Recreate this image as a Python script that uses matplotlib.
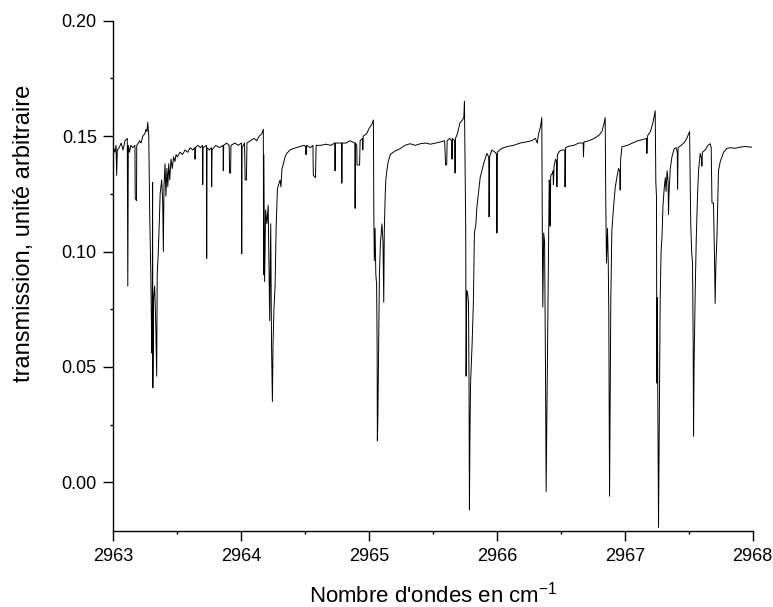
import matplotlib
matplotlib.use("Agg")
import matplotlib.pyplot as plt
from matplotlib.ticker import MultipleLocator, FormatStrFormatter

plt.rcParams['font.family'] = ['Liberation Sans', 'DejaVu Sans']

# spectre : nombre d'ondes (cm-1) et transmission
wavenumber = [
    # 2963.0 - 2963.27
    2963.000, 2963.010, 2963.020, 2963.025, 2963.030, 2963.045, 2963.060, 2963.075, 2963.090, 2963.108,
    2963.112, 2963.116, 2963.125, 2963.135, 2963.150, 2963.168, 2963.170, 2963.180, 2963.182, 2963.195,
    2963.205, 2963.215, 2963.230, 2963.245, 2963.255, 2963.262, 2963.268,
    # massif 2963.3
    2963.276, 2963.283, 2963.292, 2963.300, 2963.303, 2963.306, 2963.308, 2963.314, 2963.322, 2963.330,
    2963.338, 2963.342, 2963.350, 2963.358, 2963.365, 2963.377, 2963.385, 2963.390, 2963.395, 2963.403,
    2963.410, 2963.418, 2963.425, 2963.432, 2963.440, 2963.450, 2963.460, 2963.470, 2963.480, 2963.490,
    # 2963.5 - 2964.16
    2963.500, 2963.520, 2963.540, 2963.560, 2963.580, 2963.600, 2963.620, 2963.636, 2963.638, 2963.641,
    2963.660, 2963.680, 2963.696, 2963.698, 2963.701, 2963.727, 2963.729, 2963.732, 2963.750, 2963.766,
    2963.768, 2963.771, 2963.800, 2963.830, 2963.857, 2963.859, 2963.862, 2963.885, 2963.905, 2963.908,
    2963.916, 2963.919, 2963.950, 2963.975, 2964.001, 2964.003, 2964.006, 2964.025, 2964.030, 2964.040,
    2964.044, 2964.070, 2964.100, 2964.120, 2964.140, 2964.160,
    # massif 2964.2
    2964.172, 2964.174, 2964.176, 2964.182, 2964.190, 2964.200, 2964.210, 2964.222, 2964.230, 2964.236,
    2964.243, 2964.248, 2964.255, 2964.264, 2964.272, 2964.282, 2964.292, 2964.303, 2964.310, 2964.318,
    2964.329, 2964.342, 2964.355, 2964.381,
    # 2964.4 - 2965.03
    2964.400, 2964.430, 2964.460, 2964.490, 2964.504, 2964.506, 2964.509, 2964.540, 2964.560, 2964.563,
    2964.580, 2964.585, 2964.620, 2964.660, 2964.700, 2964.731, 2964.733, 2964.736, 2964.760, 2964.784,
    2964.786, 2964.789, 2964.820, 2964.850, 2964.888, 2964.890, 2964.893, 2964.903, 2964.905, 2964.925,
    2964.929, 2964.948, 2964.950, 2964.953, 2964.980, 2965.000, 2965.020, 2965.033,
    # massif 2965.05
    2965.036, 2965.040, 2965.046, 2965.052, 2965.058, 2965.062, 2965.064, 2965.068, 2965.080, 2965.088,
    2965.100, 2965.108, 2965.114, 2965.118, 2965.125, 2965.130, 2965.138, 2965.148, 2965.165,
    # 2965.2 - 2965.745
    2965.200, 2965.240, 2965.280, 2965.320, 2965.360, 2965.400, 2965.440, 2965.480, 2965.520, 2965.560,
    2965.590, 2965.598, 2965.606, 2965.610, 2965.630, 2965.645, 2965.648, 2965.651, 2965.668, 2965.672,
    2965.675, 2965.690, 2965.710, 2965.730, 2965.740, 2965.745,
    # massif 2965.78
    2965.755, 2965.758, 2965.763, 2965.770, 2965.777, 2965.781, 2965.784, 2965.788, 2965.793, 2965.805,
    2965.815, 2965.823, 2965.835, 2965.842, 2965.868, 2965.895, 2965.920, 2965.935, 2965.938, 2965.942,
    2965.959, 2965.985, 2965.997, 2965.999, 2966.002,
    # 2966.0 - 2966.35
    2966.030, 2966.080, 2966.130, 2966.180, 2966.230, 2966.270, 2966.300, 2966.315, 2966.325, 2966.340,
    2966.350,
    # massif 2966.38 et 2966.4 - 2966.846
    2966.354, 2966.358, 2966.365, 2966.372, 2966.380, 2966.384, 2966.390, 2966.395, 2966.402, 2966.408,
    2966.413, 2966.415, 2966.420, 2966.429, 2966.438, 2966.441, 2966.446, 2966.458, 2966.466, 2966.468,
    2966.472, 2966.490, 2966.510, 2966.530, 2966.532, 2966.536, 2966.560, 2966.600, 2966.640, 2966.674,
    2966.676, 2966.680, 2966.720, 2966.760, 2966.800, 2966.820, 2966.835, 2966.846,
    # massif 2966.88 et 2966.9 - 2967.237
    2966.850, 2966.856, 2966.864, 2966.870, 2966.874, 2966.878, 2966.880, 2966.884, 2966.890, 2966.898,
    2966.911, 2966.925, 2966.937, 2966.950, 2966.960, 2966.963, 2966.967, 2966.977, 2967.020, 2967.060,
    2967.100, 2967.140, 2967.170, 2967.172, 2967.176, 2967.200, 2967.220, 2967.237,
    # massif 2967.26 et 2967.3 - 2967.506
    2967.242, 2967.247, 2967.250, 2967.254, 2967.258, 2967.263, 2967.268, 2967.276, 2967.283, 2967.290,
    2967.298, 2967.307, 2967.316, 2967.322, 2967.330, 2967.338, 2967.341, 2967.345, 2967.355, 2967.368,
    2967.385, 2967.400, 2967.410, 2967.412, 2967.416, 2967.440, 2967.460, 2967.480, 2967.495, 2967.506,
    # massif 2967.54
    2967.515, 2967.522, 2967.529, 2967.534, 2967.537, 2967.541, 2967.550, 2967.558, 2967.568, 2967.576,
    2967.589, 2967.600, 2967.602, 2967.606, 2967.628, 2967.650, 2967.667, 2967.675,
    # raie 2967.71 et fin
    2967.681, 2967.693, 2967.700, 2967.706, 2967.712, 2967.720, 2967.732, 2967.746, 2967.772, 2967.798,
    2967.830, 2967.860, 2967.900, 2967.940, 2967.990,
]

transmission = [
    # 2963.0 - 2963.27
    0.145, 0.143, 0.146, 0.133, 0.144, 0.145, 0.147, 0.144, 0.148, 0.149,
    0.085, 0.146, 0.143, 0.146, 0.145, 0.146, 0.123, 0.122, 0.146, 0.147,
    0.148, 0.147, 0.150, 0.151, 0.153, 0.152, 0.156,
    # massif 2963.3
    0.150, 0.118, 0.090, 0.056, 0.060, 0.130, 0.041, 0.080, 0.085, 0.070,
    0.046, 0.090, 0.099, 0.112, 0.125, 0.131, 0.122, 0.100, 0.128, 0.138,
    0.124, 0.136, 0.128, 0.138, 0.131, 0.140, 0.136, 0.141, 0.139, 0.142,
    # 2963.5 - 2964.16
    0.141, 0.143, 0.142, 0.144, 0.143, 0.145, 0.144, 0.145, 0.140, 0.145,
    0.146, 0.145, 0.146, 0.129, 0.145, 0.146, 0.097, 0.145, 0.144, 0.145,
    0.128, 0.144, 0.146, 0.145, 0.146, 0.135, 0.146, 0.147, 0.146, 0.134,
    0.134, 0.146, 0.147, 0.146, 0.147, 0.099, 0.145, 0.147, 0.131, 0.131,
    0.147, 0.148, 0.149, 0.148, 0.150, 0.151,
    # massif 2964.2
    0.153, 0.090, 0.142, 0.087, 0.118, 0.112, 0.120, 0.070, 0.112, 0.060,
    0.035, 0.060, 0.075, 0.085, 0.110, 0.127, 0.129, 0.131, 0.128, 0.136,
    0.138, 0.141, 0.1425, 0.144,
    # 2964.4 - 2965.03
    0.1445, 0.145, 0.1455, 0.146, 0.1455, 0.142, 0.146, 0.145, 0.146, 0.133,
    0.132, 0.146, 0.146, 0.1465, 0.146, 0.147, 0.135, 0.147, 0.147, 0.147,
    0.1296, 0.147, 0.147, 0.148, 0.147, 0.1187, 0.147, 0.146, 0.1375, 0.1375,
    0.148, 0.149, 0.144, 0.150, 0.151, 0.1534, 0.155, 0.157,
    # massif 2965.05
    0.119, 0.096, 0.110, 0.090, 0.086, 0.060, 0.018, 0.028, 0.090, 0.104,
    0.112, 0.104, 0.078, 0.108, 0.124, 0.131, 0.135, 0.1387, 0.142,
    # 2965.2 - 2965.745
    0.1435, 0.1445, 0.146, 0.1467, 0.146, 0.1467, 0.147, 0.1465, 0.147, 0.1475,
    0.148, 0.1375, 0.1375, 0.148, 0.149, 0.148, 0.140, 0.149, 0.148, 0.134,
    0.149, 0.151, 0.1557, 0.157, 0.158, 0.165,
    # massif 2965.78
    0.110, 0.046, 0.083, 0.082, 0.078, 0.040, -0.012, 0.020, 0.043, 0.060,
    0.078, 0.108, 0.112, 0.119, 0.132, 0.138, 0.1425, 0.141, 0.115, 0.141,
    0.144, 0.143, 0.142, 0.108, 0.143,
    # 2966.0 - 2966.35
    0.1445, 0.1455, 0.146, 0.147, 0.1475, 0.148, 0.149, 0.147, 0.151, 0.154,
    0.158,
    # massif 2966.38 et 2966.4 - 2966.846
    0.110, 0.076, 0.108, 0.104, 0.040, -0.004, 0.030, 0.057, 0.100, 0.131,
    0.128, 0.111, 0.133, 0.1335, 0.135, 0.129, 0.137, 0.140, 0.139, 0.128,
    0.142, 0.1435, 0.144, 0.144, 0.128, 0.145, 0.1456, 0.146, 0.147, 0.147,
    0.141, 0.1475, 0.148, 0.149, 0.1505, 0.152, 0.155, 0.158,
    # massif 2966.88 et 2966.9 - 2967.237
    0.124, 0.095, 0.110, 0.095, 0.074, 0.020, -0.006, 0.031, 0.080, 0.109,
    0.119, 0.128, 0.132, 0.136, 0.135, 0.1266, 0.140, 0.1454, 0.146, 0.147,
    0.148, 0.1485, 0.149, 0.1425, 0.150, 0.152, 0.156, 0.161,
    # massif 2967.26 et 2967.3 - 2967.506
    0.130, 0.124, 0.043, 0.080, 0.030, -0.0195, 0.020, 0.079, 0.100, 0.106,
    0.120, 0.127, 0.132, 0.126, 0.135, 0.130, 0.116, 0.125, 0.136, 0.141,
    0.1445, 0.145, 0.143, 0.127, 0.145, 0.146, 0.147, 0.1485, 0.1505, 0.152,
    # massif 2967.54
    0.112, 0.100, 0.095, 0.060, 0.020, 0.050, 0.083, 0.105, 0.124, 0.135,
    0.1425, 0.140, 0.137, 0.143, 0.144, 0.146, 0.1467, 0.145,
    # raie 2967.71 et fin
    0.121, 0.121, 0.100, 0.0775, 0.095, 0.106, 0.135, 0.139, 0.143, 0.1447,
    0.145, 0.1447, 0.1452, 0.1455, 0.1452,
]

fig = plt.figure(figsize=(7.73, 6.07), dpi=100)
ax = fig.add_axes([0.1468, 0.1244, 0.9738 - 0.1468, 0.9659 - 0.1244])

ax.plot(wavenumber, transmission, color='black', lw=0.7)

ax.set_xlim(2963, 2968)
ax.set_ylim(-0.0213, 0.20)
ax.xaxis.set_major_locator(MultipleLocator(1))
ax.xaxis.set_minor_locator(MultipleLocator(0.5))
ax.yaxis.set_major_locator(MultipleLocator(0.05))
ax.yaxis.set_minor_locator(MultipleLocator(0.025))
ax.yaxis.set_major_formatter(FormatStrFormatter('%.2f'))
ax.xaxis.set_major_formatter(FormatStrFormatter('%d'))

for s in ['top', 'right']:
    ax.spines[s].set_visible(False)
for s in ['left', 'bottom']:
    ax.spines[s].set_linewidth(1.0)

ax.tick_params(which='major', direction='out', length=7, width=1.0, labelsize=13, pad=5)
ax.tick_params(which='minor', direction='out', length=2.5, width=1.0)

ax.set_xlabel("Nombre d'ondes en cm$^{\\mathregular{-1}}$", fontsize=16, labelpad=12)
ax.set_ylabel("transmission, unité arbitraire", fontsize=17)
ax.yaxis.set_label_coords(-0.122, 0.584)

fig.savefig('out.png', dpi=100)
